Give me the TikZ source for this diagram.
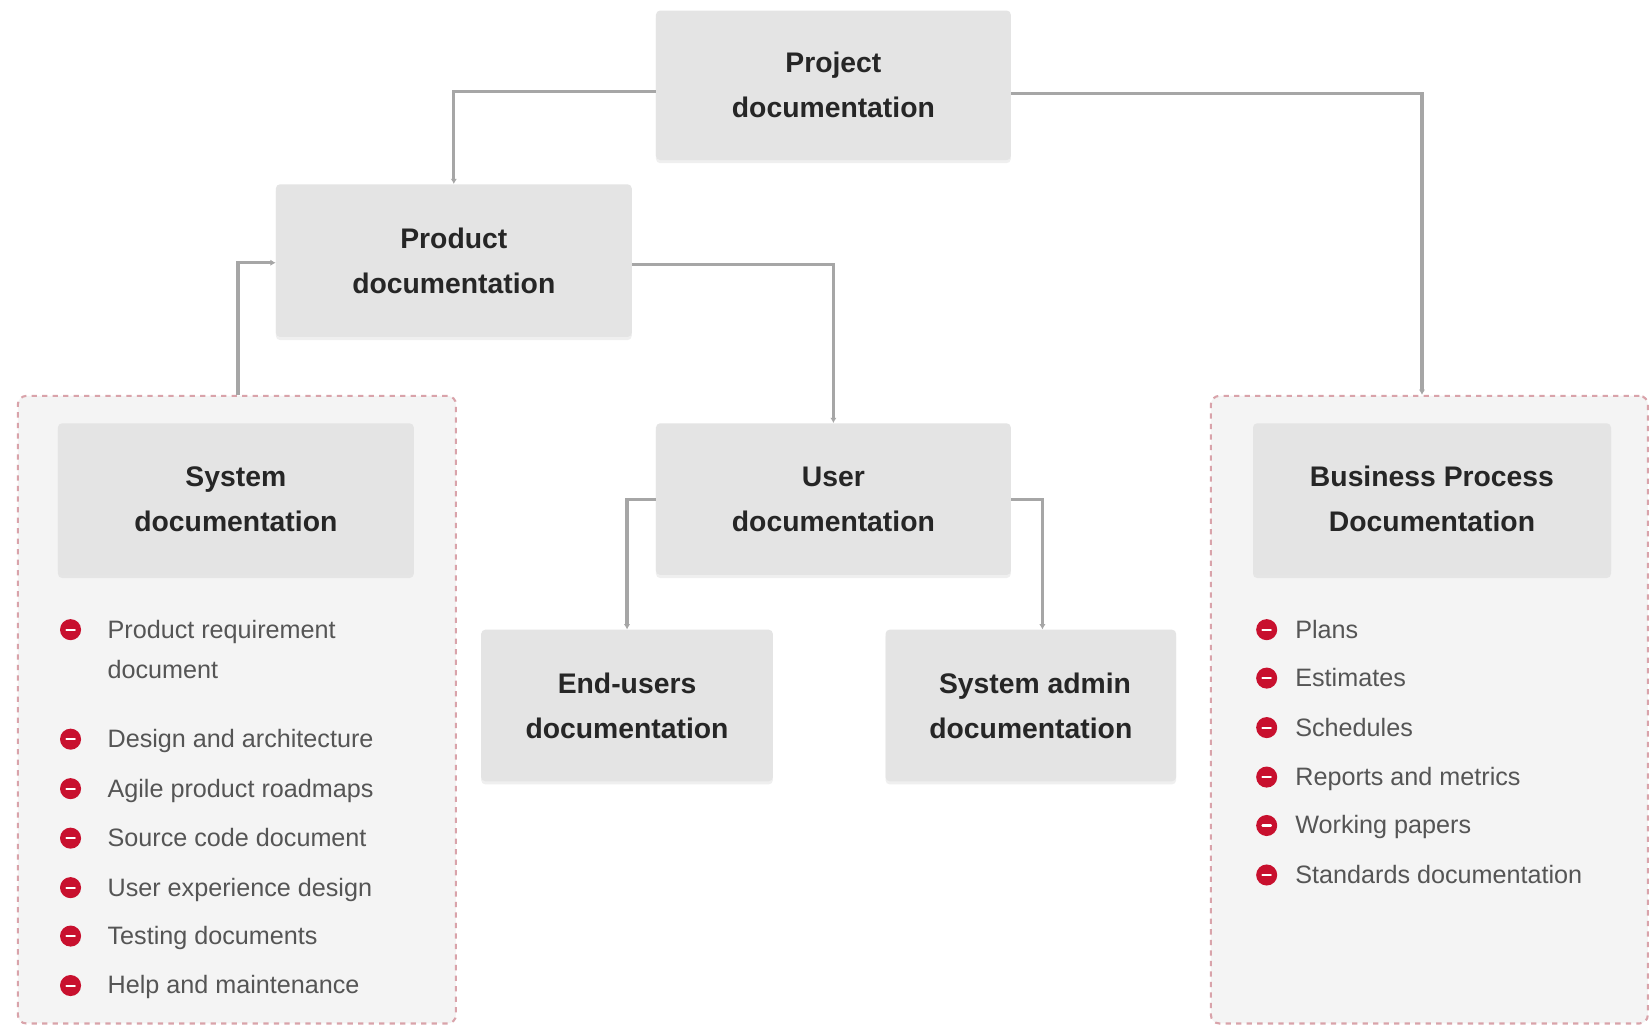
\documentclass[tikz,border=0pt]{standalone}
\usepackage{fontspec}
\setmainfont{Liberation Sans}
\usetikzlibrary{arrows.meta,shadows}
\definecolor{boxfill}{HTML}{E4E4E4}
\definecolor{contfill}{HTML}{F4F4F4}
\definecolor{dashc}{HTML}{D9A3AA}
\definecolor{linec}{HTML}{A6A6A6}
\definecolor{bulc}{HTML}{C8102E}
\definecolor{titlec}{HTML}{262626}
\definecolor{itemc}{HTML}{555555}
\begin{document}
\begin{tikzpicture}[x=1bp,y=-1bp,
  box/.style={fill=boxfill, rounded corners=4bp, inner sep=0pt, align=center,
    font=\bfseries\fontsize{27}{43}\selectfont, text=titlec,
    drop shadow={shadow xshift=0bp, shadow yshift=-3bp, opacity=0.12}},
  cont/.style={draw=dashc, dash pattern=on 5bp off 5bp, line width=2bp, fill=contfill, rounded corners=8bp, inner sep=0pt},
  conn/.style={draw=linec, line width=3bp, -{Latex[length=5bp,width=6bp]}},
  bullet/.style={circle, fill=bulc, minimum size=20bp, inner sep=0pt,
    path picture={\draw[white, line width=2bp, line cap=round]
      ([xshift=-4bp]path picture bounding box.center) -- ([xshift=4bp]path picture bounding box.center);}},
  item/.style={anchor=base west, inner sep=0pt, align=left, text=itemc,
    font=\fontsize{24}{38}\selectfont}
]
\useasboundingbox[fill=white] (0,0) rectangle (1568,975);

% containers
\node[cont, minimum width=416bp, minimum height=596bp] (lcont) at (225,674) {};
\node[cont, minimum width=415bp, minimum height=596bp] (rcont) at (1357.5,674) {};

% boxes
\node[box, minimum width=337bp, minimum height=142bp] (proj) at (791.5,81) {Project\\documentation};
\node[box, minimum width=338bp, minimum height=145bp] (prod) at (431,247.5) {Product\\documentation};
\node[box, minimum width=338bp, minimum height=144bp] (sys) at (224,474) {System\\documentation};
\node[box, minimum width=337bp, minimum height=144bp] (user) at (791.5,474) {User\\documentation};
\node[box, minimum width=277bp, minimum height=144bp] (endu) at (595.5,670) {End-users\\documentation};
\node[box, minimum width=276bp, minimum height=144bp] (sadm) at (979,670) {\hspace*{8bp}System admin\\documentation};
\node[box, minimum width=340bp, minimum height=144bp] (bpd) at (1360,474) {Business Process\\Documentation};

% connectors
\draw[conn] ([yshift=-6bp]proj.west) -| (prod.north);
\draw[conn] ([yshift=-8bp]proj.east) -| ([xshift=-7bp]rcont.north);
\draw[conn] ([yshift=-4bp]prod.east) -| (user.north);
\draw[conn] ([xshift=1bp]lcont.north) |- ([yshift=-2bp]prod.west);
\draw[conn] (user.west) -| (endu.north);
\draw[conn] (user.east) -| ([xshift=11bp]sadm.north);

% left list
\node[bullet] (lb1) at (67,598) {};
\node[item] (lt1) at (102,644) {Product requirement\\document};
\node[bullet] (lb2) at (67,702) {};
\node[item] (lt2) at (102,710) {Design and architecture};
\node[bullet] (lb3) at (67,749) {};
\node[item] (lt3) at (102,757) {Agile product roadmaps};
\node[bullet] (lb4) at (67,796) {};
\node[item] (lt4) at (102,804) {Source code document};
\node[bullet] (lb5) at (67,843) {};
\node[item] (lt5) at (102,851) {User experience design};
\node[bullet] (lb6) at (67,889) {};
\node[item] (lt6) at (102,897) {Testing documents};
\node[bullet] (lb7) at (67,936) {};
\node[item] (lt7) at (102,944) {Help and maintenance};

% right list
\node[bullet] (rb1) at (1203,598) {};
\node[item] (rt1) at (1230,606) {Plans};
\node[bullet] (rb2) at (1203,644) {};
\node[item] (rt2) at (1230,652) {Estimates};
\node[bullet] (rb3) at (1203,691) {};
\node[item] (rt3) at (1230,699) {Schedules};
\node[bullet] (rb4) at (1203,738) {};
\node[item] (rt4) at (1230,746) {Reports and metrics};
\node[bullet] (rb5) at (1203,784) {};
\node[item] (rt5) at (1230,792) {Working papers};
\node[bullet] (rb6) at (1203,831) {};
\node[item] (rt6) at (1230,839) {Standards documentation};
\end{tikzpicture}
\end{document}
